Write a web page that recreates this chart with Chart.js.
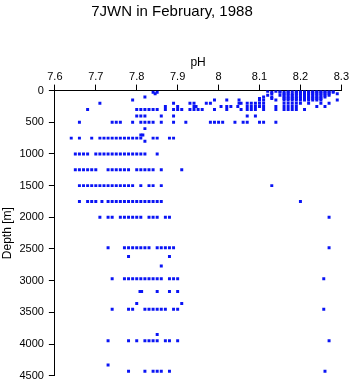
<!DOCTYPE html>
<html>
<head>
<meta charset="utf-8">
<script src="https://cdn.jsdelivr.net/npm/chart.js@4.4.1/dist/chart.umd.min.js"></script>
<style>
  html, body { margin: 0; padding: 0; background: #fff; }
  #wrap { width: 350px; height: 384px; }
</style>
</head>
<body>
<div id="wrap"><canvas id="phChart"></canvas></div>
<script>
// Sampling depths (m) of the bottle rows
const depthLevels = [10, 25, 50, 75, 100, 125, 150, 200, 250, 300, 400, 500, 600, 700, 750, 800,
  1000, 1250, 1500, 1750, 2000, 2480, 2620, 2770, 2970, 3170, 3360, 3450, 3850, 3950, 4330, 4430];

// pH readings found at each depth row (same order as depthLevels)
const phByLevel = [
  [8.12, 8.14, 8.15, 8.17, 8.18, 8.19, 8.20, 8.21, 8.22, 8.23, 8.24, 8.25, 8.26, 8.27, 8.28],
  [7.84, 7.85, 8.13, 8.15, 8.16, 8.17, 8.19, 8.20, 8.21, 8.22, 8.23, 8.24, 8.25, 8.26, 8.27, 8.28],
  [7.845, 8.13, 8.16, 8.17, 8.18, 8.19, 8.20, 8.21, 8.22, 8.23, 8.24, 8.25, 8.26, 8.27, 8.29],
  [8.12, 8.15, 8.16, 8.17, 8.18, 8.19, 8.20, 8.21, 8.22, 8.23, 8.24, 8.25, 8.26, 8.27],
  [7.82, 8.11, 8.13, 8.16, 8.17, 8.18, 8.19, 8.20, 8.21, 8.22, 8.23, 8.24, 8.25, 8.26],
  [8.10, 8.13, 8.16, 8.17, 8.18, 8.19, 8.20, 8.21, 8.22, 8.23, 8.24, 8.25],
  [7.79, 7.99, 8.02, 8.05, 8.10, 8.11, 8.14, 8.16, 8.17, 8.18, 8.19, 8.20, 8.21, 8.22, 8.23, 8.24, 8.25, 8.29],
  [7.71, 7.89, 7.93, 7.94, 7.97, 7.98, 8.05, 8.055, 8.07, 8.08, 8.09, 8.10, 8.11, 8.16, 8.17, 8.18, 8.19, 8.20, 8.22, 8.25, 8.27],
  [7.87, 7.90, 7.94, 7.945, 8.006, 8.02, 8.03, 8.047, 8.07, 8.08, 8.09, 8.10, 8.11, 8.14, 8.16, 8.17, 8.18, 8.19, 8.24, 8.26],
  [7.68, 7.80, 7.81, 7.82, 7.83, 7.84, 7.85, 7.87, 7.89, 7.90, 7.91, 7.93, 7.94, 7.95, 7.96, 7.99, 8.02, 8.055, 8.07, 8.08, 8.09, 8.11, 8.14, 8.16, 8.17, 8.18, 8.19, 8.21],
  [7.80, 7.81, 7.82, 7.86, 7.89, 8.07, 8.09],
  [7.66, 7.74, 7.75, 7.76, 7.79, 7.81, 7.82, 7.83, 7.84, 7.86, 7.89, 7.92, 7.98, 7.99, 8.00, 8.01, 8.04, 8.06, 8.07, 8.10, 8.11, 8.14],
  [7.82],
  [7.81, 7.815],
  [7.64, 7.66, 7.69, 7.71, 7.72, 7.73, 7.74, 7.75, 7.76, 7.77, 7.78, 7.79, 7.80, 7.81, 7.84, 7.85, 7.88, 7.89],
  [7.82],
  [7.65, 7.66, 7.67, 7.68, 7.70, 7.71, 7.72, 7.73, 7.74, 7.75, 7.76, 7.77, 7.78, 7.79, 7.80, 7.81, 7.82, 7.85],
  [7.65, 7.66, 7.67, 7.68, 7.69, 7.70, 7.73, 7.74, 7.75, 7.76, 7.77, 7.78, 7.80, 7.81, 7.82, 7.83, 7.84, 7.86, 7.91],
  [7.66, 7.67, 7.68, 7.69, 7.70, 7.71, 7.72, 7.73, 7.74, 7.75, 7.76, 7.77, 7.78, 7.79, 7.81, 7.83, 7.84, 7.86, 8.13],
  [7.66, 7.68, 7.69, 7.70, 7.715, 7.73, 7.74, 7.75, 7.76, 7.77, 7.78, 7.79, 7.80, 7.81, 7.82, 7.83, 7.84, 7.85, 7.86, 8.20],
  [7.71, 7.73, 7.74, 7.76, 7.77, 7.78, 7.79, 7.80, 7.81, 7.83, 7.84, 7.85, 7.87, 7.88, 8.27],
  [7.73, 7.77, 7.78, 7.79, 7.80, 7.81, 7.82, 7.83, 7.85, 7.86, 7.87, 7.88, 7.89, 8.27],
  [7.78, 7.88],
  [7.86],
  [7.74, 7.77, 7.78, 7.79, 7.80, 7.81, 7.82, 7.83, 7.84, 7.85, 7.86, 7.88, 7.89, 7.90, 8.257],
  [7.808, 7.812, 7.85, 7.88, 7.90],
  [7.80, 7.91],
  [7.74, 7.78, 7.79, 7.82, 7.83, 7.84, 7.85, 7.86, 7.87, 7.89, 7.90, 8.257],
  [7.85],
  [7.73, 7.78, 7.80, 7.82, 7.83, 7.84, 7.85, 7.87, 7.88, 7.90, 8.27],
  [7.73],
  [7.78, 7.82, 7.84, 7.85, 7.86, 7.88, 8.26]
];

const phTicks = [7.6, 7.7, 7.8, 7.9, 8.0, 8.1, 8.2, 8.3];

// flatten into x/y points for the scatter
const points = [];
depthLevels.forEach((d, i) => {
  phByLevel[i].forEach(p => points.push({ x: p, y: d }));
});

const font = { family: "'Liberation Sans', Arial, sans-serif", size: 11 };
const ctx = document.getElementById('phChart').getContext('2d');

new Chart(ctx, {
  type: 'scatter',
  data: {
    datasets: [{
      data: points,
      pointStyle: 'rect',
      pointRadius: 2.1,
      pointBorderWidth: 0,
      backgroundColor: 'rgb(10, 20, 245)',
      borderColor: 'rgb(10, 20, 245)'
    }]
  },
  options: {
    responsive: true,
    maintainAspectRatio: false,
    animation: false,
    layout: { padding: { left: 0, right: 6, top: 0, bottom: 0 } },
    plugins: {
      legend: { display: false },
      tooltip: { enabled: false },
      title: {
        display: true,
        text: '7JWN in February, 1988',
        color: '#000',
        font: { family: font.family, size: 15, weight: 'normal' },
        padding: { top: 3, bottom: 34 }
      }
    },
    scales: {
      x: {
        type: 'linear',
        position: 'top',
        min: 7.6,
        max: 8.3,
        afterBuildTicks: axis => { axis.ticks = phTicks.map(v => ({ value: v })); },
        ticks: {
          color: '#000',
          font: font,
          padding: 1,
          maxRotation: 0,
          callback: v => String(+v.toFixed(1))
        },
        grid: { drawOnChartArea: false, drawTicks: true, tickLength: 6, color: '#000' },
        border: { display: true, color: '#000', width: 1 },
        title: { display: true, text: 'pH', color: '#000', font: { family: font.family, size: 12 }, padding: { top: 0, bottom: 0 } }
      },
      y: {
        type: 'linear',
        reverse: true,
        min: 0,
        max: 4500,
        ticks: {
          stepSize: 500,
          color: '#000',
          // small line height so the last label does not push the plot up
          font: { family: font.family, size: 11, lineHeight: 0.6 },
          padding: 5,
          callback: v => String(v)
        },
        grid: { drawOnChartArea: false, drawTicks: true, tickLength: 6, color: '#000' },
        border: { display: true, color: '#000', width: 1 },
        title: { display: true, text: 'Depth [m]', color: '#000', font: { family: font.family, size: 12 }, padding: { top: 0, bottom: 0 } }
      }
    }
  }
});
</script>
</body>
</html>
